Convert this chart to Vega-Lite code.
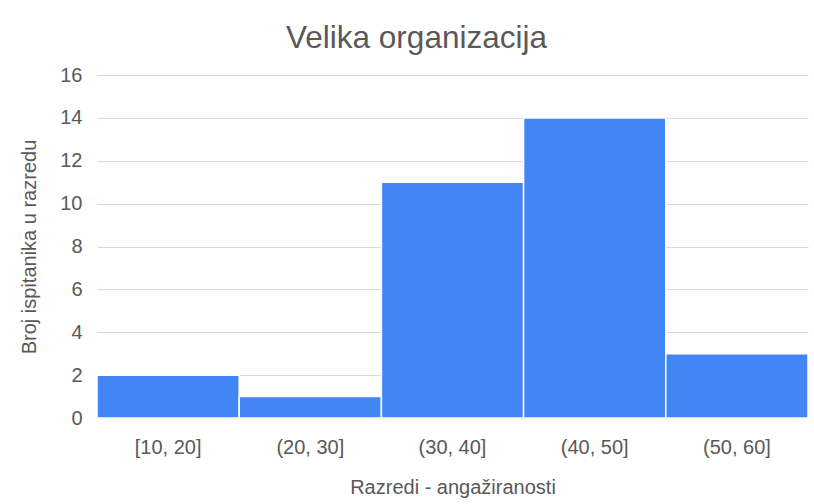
{
  "$schema": "https://vega.github.io/schema/vega-lite/v6.json",
  "width": 711,
  "height": 343,
  "autosize": {"type": "none"},
  "padding": {"left": 97, "top": 75, "right": 6, "bottom": 86},
  "background": "white",
  "config": {
    "font": "Liberation Sans",
    "view": {"stroke": null}
  },
  "title": {
    "text": "Velika organizacija",
    "fontSize": 31.5,
    "fontWeight": "normal",
    "color": "#595959",
    "anchor": "middle",
    "dx": -36,
    "offset": 11
  },
  "data": {
    "values": [
      {"razred": "[10, 20]", "broj": 2},
      {"razred": "(20, 30]", "broj": 1},
      {"razred": "(30, 40]", "broj": 11},
      {"razred": "(40, 50]", "broj": 14},
      {"razred": "(50, 60]", "broj": 3}
    ]
  },
  "mark": {"type": "bar", "color": "#4285F4", "stroke": "white", "strokeWidth": 1.5},
  "encoding": {
    "x": {
      "field": "razred",
      "type": "nominal",
      "sort": null,
      "scale": {"paddingInner": 0, "paddingOuter": 0},
      "axis": {
        "title": "Razredi - angažiranosti",
        "titleFontSize": 20,
        "titleFontWeight": "normal",
        "titleColor": "#595959",
        "titlePadding": 20,
        "labelAngle": 0,
        "labelFontSize": 20,
        "labelColor": "#595959",
        "labelPadding": 19,
        "ticks": false,
        "domainColor": "#d9d9d9",
        "grid": false
      }
    },
    "y": {
      "field": "broj",
      "type": "quantitative",
      "scale": {"domain": [0, 16]},
      "axis": {
        "title": "Broj ispitanika u razredu",
        "titleFontSize": 20,
        "titleFontWeight": "normal",
        "titleColor": "#595959",
        "titlePadding": 20,
        "values": [0, 2, 4, 6, 8, 10, 12, 14, 16],
        "labelFontSize": 20,
        "labelColor": "#595959",
        "labelPadding": 15,
        "ticks": false,
        "domain": false,
        "gridColor": "#d9d9d9"
      }
    }
  }
}
